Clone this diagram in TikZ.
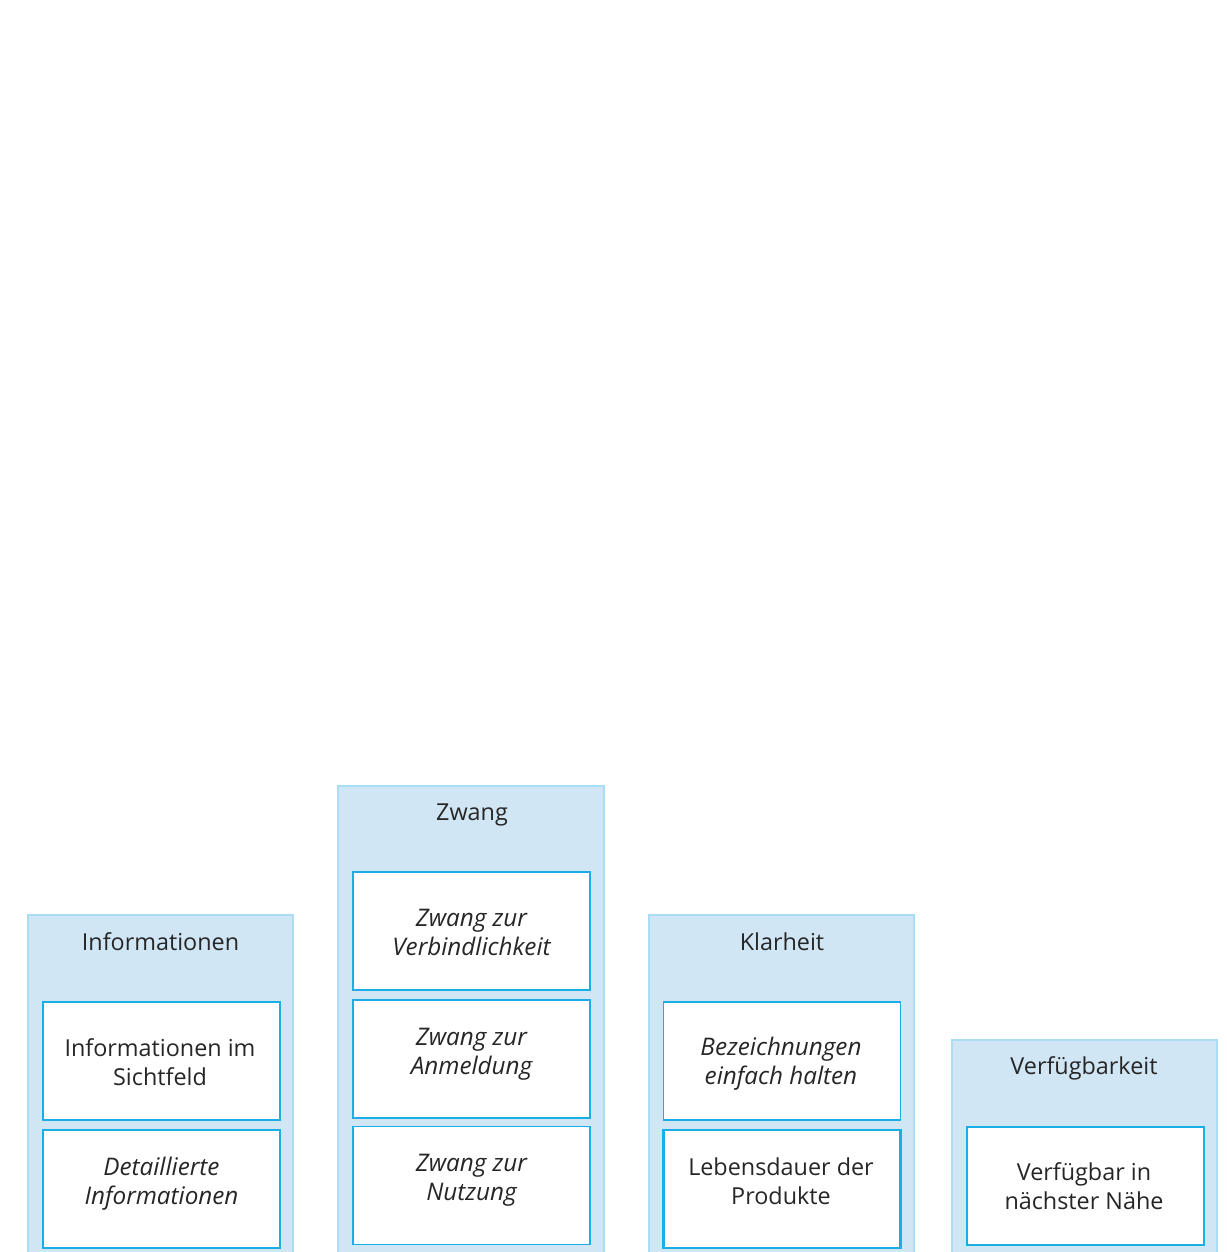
\documentclass[tikz,border=0pt]{standalone}
\usepackage{fontspec}
\setmainfont{Open Sans}
\newcommand{\twolines}[2]{\strut #1\\\strut #2}
\begin{document}
\begin{tikzpicture}[x=0.02cm,y=-0.02cm,
  colbox/.style={draw=colborder,fill=colfill,line width=1.1pt},
  coltitle/.style={text=txt,font=\fontsize{13.3}{16.5}\selectfont,inner sep=0pt,anchor=base},
  itembox/.style={draw=itemborder,fill=white,minimum width=4.74cm,minimum height=2.36cm,inner sep=0pt},
  thinbox/.style={itembox,line width=0.75pt},
  thickbox/.style={itembox,line width=1.6pt},
  itemtext/.style={align=center,text=txt,inner sep=0pt,font=\fontsize{13.3}{16.5}\selectfont},
  italtext/.style={align=center,text=txt,inner sep=0pt,font=\fontsize{13.8}{16.5}\selectfont\itshape}]
\definecolor{colborder}{HTML}{A9DCF5}
\definecolor{colfill}{HTML}{D0E6F5}
\definecolor{itemborder}{HTML}{1AAEE6}
\definecolor{txt}{HTML}{262626}
\useasboundingbox (0,0) rectangle (1227,1252);
\clip (0,0) rectangle (1227,1252);
\fill[white] (0,0) rectangle (1227,1252);
% columns
\draw[colbox] (28,915) rectangle (293,1270);
\draw[colbox] (338,786) rectangle (604,1270);
\draw[colbox] (649,915) rectangle (914,1270);
\draw[colbox] (952,1040) rectangle (1217,1270);
% titles
\node[coltitle] (t1) at (160.5,950) {Informationen};
\node[coltitle] (t2) at (472,820) {Zwang};
\node[coltitle] (t3) at (782,950) {Klarheit};
\node[coltitle] (t4) at (1084,1074) {Verfügbarkeit};
% item boxes
\node[thickbox] (i11) at (161.5,1061) {};
\node[thinbox] (i12) at (161.5,1189) {};
\node[thinbox] (i21) at (471.5,931) {};
\node[thinbox] (i22) at (471.5,1059) {};
\node[thinbox] (i23) at (471.5,1185.5) {};
\node[thinbox] (i31) at (782,1061) {};
\node[thickbox] (i32) at (782,1189) {};
\node[thickbox] (i41) at (1085.5,1186) {};
% item texts
\node[itemtext] (x11) at (160,1065) {\twolines{Informationen im}{Sichtfeld}};
\node[italtext] (x12) at (161.5,1184) {\twolines{Detaillierte}{Informationen}};
\node[italtext] (x21) at (471.5,935.6) {\twolines{Zwang zur}{Verbindlichkeit}};
\node[italtext] (x22) at (471.5,1054) {\twolines{Zwang zur}{Anmeldung}};
\node[italtext] (x23) at (471.5,1180.6) {\twolines{Zwang zur}{Nutzung}};
\node[italtext] (x31) at (781,1064.3) {\twolines{Bezeichnungen}{einfach halten}};
\node[itemtext] (x32) at (781,1184.3) {\twolines{Lebensdauer der}{Produkte}};
\node[itemtext] (x41) at (1084,1189.3) {\twolines{Verfügbar in}{nächster Nähe}};
\end{tikzpicture}
\end{document}
